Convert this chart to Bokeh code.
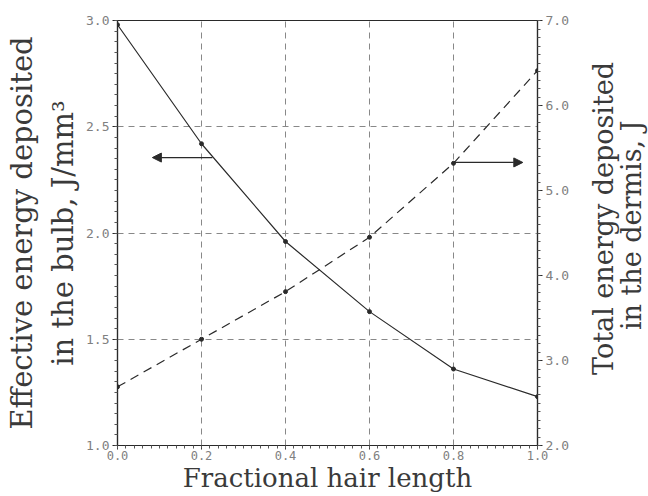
from math import pi
from bokeh.plotting import figure
from bokeh.layouts import row
from bokeh.core.properties import value
from bokeh.models import (Range1d, LinearAxis, FixedTicker, Arrow,
                          NormalHead, PrintfTickFormatter)
from bokeh.embed import file_html
from bokeh.resources import INLINE

# ---- data ----
hair_fraction = [0.0, 0.2, 0.4, 0.6, 0.8, 1.0]
bulb_energy = [2.98, 2.42, 1.96, 1.63, 1.36, 1.23]      # J/mm^3 (left axis)
dermis_energy = [2.69, 3.25, 3.81, 4.45, 5.32, 6.41]    # J (right axis)

x_ticks = [0.0, 0.2, 0.4, 0.6, 0.8, 1.0]
x_minor = [i / 50 for i in range(51)]
left_ticks = [1.0, 1.5, 2.0, 2.5, 3.0]
left_minor = [1.0 + i * 0.05 for i in range(41)]
right_ticks = [2.0, 3.0, 4.0, 5.0, 6.0, 7.0]
right_minor = [2.0 + i * 0.1 for i in range(51)]
grid_x = [0.2, 0.4, 0.6, 0.8]
grid_y = [1.5, 2.0, 2.5]

x_title = "Fractional hair length"
left_title = "Effective energy deposited\nin the bulb, J/mm\u00b3"
right_title_lines = ["Total energy deposited", "in the dermis, J"]

# arrows pointing to the axis each curve belongs to
left_arrow = dict(x_start=0.226, x_end=0.083, y=2.355)
right_arrow = dict(x_start=0.80, x_end=0.965, y=5.33)

SERIF = "DejaVu Serif"
MONO = "DejaVu Sans Mono"
INK = "#2a2a2a"
TITLE_INK = "#3a3a3a"

MAIN_W = 580
p = figure(width=MAIN_W, height=496, x_range=Range1d(0, 1), y_range=Range1d(1, 3),
           output_backend="svg", toolbar_location=None,
           min_border_left=117, min_border_right=MAIN_W - 537, min_border_top=20,
           min_border_bottom=51)
p.extra_y_ranges = {"right": Range1d(2, 7)}
p.outline_line_color = INK
p.outline_line_width = 1.2

# grids
p.xgrid.ticker = FixedTicker(ticks=grid_x)
p.ygrid.ticker = FixedTicker(ticks=grid_y)
for g in (p.xgrid, p.ygrid):
    g.grid_line_color = "#888888"
    g.grid_line_dash = "6 5"
    g.grid_line_width = 1

def style_axis(ax):
    ax.axis_line_color = INK
    ax.axis_line_width = 1.2
    ax.major_tick_line_color = INK
    ax.minor_tick_line_color = "#555555"
    ax.major_tick_in = 0
    ax.major_tick_out = 5
    ax.minor_tick_in = 0
    ax.minor_tick_out = 3
    ax.major_label_text_font = MONO
    ax.major_label_text_font_size = "13px"
    ax.major_label_text_color = "#808080"
    ax.major_label_standoff = 3
    ax.formatter = PrintfTickFormatter(format="%.1f")
    ax.axis_label_text_font = SERIF
    ax.axis_label_text_font_style = "normal"
    ax.axis_label_text_color = TITLE_INK

xa = p.xaxis[0]
style_axis(xa)
xa.ticker = FixedTicker(ticks=x_ticks, minor_ticks=x_minor)
xa.axis_label = x_title
xa.axis_label_text_font_size = "26px"
xa.axis_label_standoff = 0
xa.major_tick_out = 4
xa.major_label_standoff = 1
xa.major_label_text_font_size = "12px"

ya = p.yaxis[0]
style_axis(ya)
ya.ticker = FixedTicker(ticks=left_ticks, minor_ticks=left_minor)
ya.axis_label = left_title
ya.axis_label_text_font_size = "29px"
ya.axis_label_text_line_height = 1.2
ya.axis_label_standoff = 3

ra = LinearAxis(y_range_name="right")
style_axis(ra)
ra.ticker = FixedTicker(ticks=right_ticks, minor_ticks=right_minor)
p.add_layout(ra, "right")

# curves
p.line(hair_fraction, bulb_energy, line_color=INK, line_width=1.2)
p.scatter(hair_fraction, bulb_energy, size=4, color=INK)
p.line(hair_fraction, dermis_energy, y_range_name="right", line_color=INK,
       line_width=1.2, line_dash="9 6")
p.scatter(hair_fraction, dermis_energy, y_range_name="right", size=4, color=INK)

# arrows
p.add_layout(Arrow(x_start=left_arrow["x_start"], x_end=left_arrow["x_end"],
                   y_start=left_arrow["y"], y_end=left_arrow["y"],
                   line_color=INK, line_width=1.2,
                   end=NormalHead(size=9, fill_color=INK, line_color=INK)))
p.add_layout(Arrow(x_start=right_arrow["x_start"], x_end=right_arrow["x_end"],
                   y_start=right_arrow["y"], y_end=right_arrow["y"],
                   y_range_name="right", line_color=INK, line_width=1.2,
                   end=NormalHead(size=9, fill_color=INK, line_color=INK)))

# right axis title, reading bottom to top as in the reference
SIDE_W = 648 - MAIN_W
side = figure(width=SIDE_W, height=496, x_range=Range1d(0, SIDE_W),
              y_range=Range1d(496, 0), output_backend="svg", toolbar_location=None,
              x_axis_location=None, y_axis_location=None, min_border=0)
side.grid.visible = False
side.outline_line_color = None
side.text(x=[603 - MAIN_W, 631 - MAIN_W], y=[231, 239], text=right_title_lines,
          angle=pi / 2, text_align="center", text_baseline="middle",
          text_font=value(SERIF), text_font_size="27px", text_color=TITLE_INK)

open("out.html", "w").write(file_html(row(p, side), INLINE))
